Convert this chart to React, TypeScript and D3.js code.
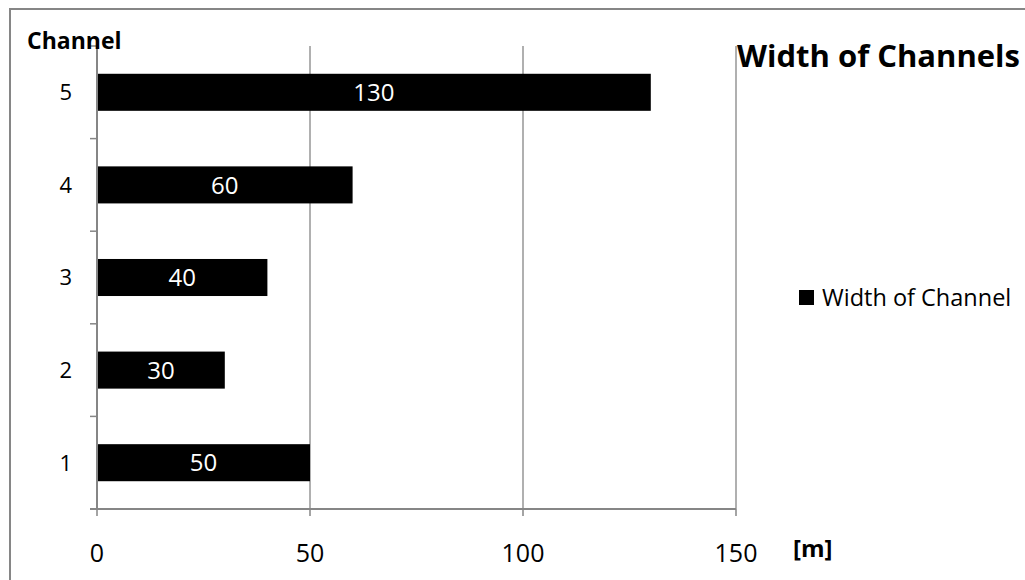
import React from "react";
import * as d3 from "d3";

const categories = ["1", "2", "3", "4", "5"];
const widths = [50, 30, 40, 60, 130];
const xTicks = [0, 50, 100, 150];
const title = "Width of Channels";
const seriesName = "Width of Channel";
const yTitle = "Channel";
const xTitle = "[m]";

const W = 1025;
const H = 580;
const plot = { left: 97, right: 736, top: 46, bottom: 509 };
const grey = "#868686";
const font = "'Open Sans', 'Noto Sans', sans-serif";

export default function App() {
  const x = d3.scaleLinear().domain([0, 150]).range([plot.left, plot.right]);
  const y = d3
    .scaleBand<string>()
    .domain([...categories].reverse())
    .range([plot.top, plot.bottom])
    .paddingInner(0)
    .paddingOuter(0);
  const bw = y.bandwidth();
  const barH = bw * 0.4;
  const bounds = d3.range(categories.length + 1).map((i) => plot.top + i * bw);

  return (
    <svg
      width={W}
      height={H}
      style={{ position: "absolute", left: 0, top: 0, background: "#fff" }}
      fontFamily={font}
    >
      <rect x={10} y={9} width={1030} height={600} fill="#fff" stroke={grey} strokeWidth={2} />
      {/* gridlines */}
      {xTicks.slice(1).map((t) => (
        <line key={"g" + t} x1={x(t)} x2={x(t)} y1={plot.top} y2={plot.bottom} stroke={grey} strokeWidth={1.3} />
      ))}
      {/* bars */}
      {categories.map((c, i) => {
        const cy = (y(c) as number) + bw / 2;
        return (
          <g key={"b" + c}>
            <rect x={x(0)} y={cy - barH / 2} width={x(widths[i]) - x(0)} height={barH} fill="#000" />
            <text
              x={(x(0) + x(widths[i])) / 2}
              y={cy}
              dy="0.36em"
              textAnchor="middle"
              fill="#fff"
              fontSize={24}
            >
              {widths[i]}
            </text>
          </g>
        );
      })}
      {/* axes */}
      <line x1={plot.left} x2={plot.left} y1={plot.top} y2={plot.bottom} stroke={grey} strokeWidth={2} />
      <line x1={plot.left - 7} x2={plot.right} y1={plot.bottom} y2={plot.bottom} stroke={grey} strokeWidth={2} />
      {bounds.map((b, i) => (
        <line key={"yt" + i} x1={plot.left - 7} x2={plot.left} y1={b} y2={b} stroke={grey} strokeWidth={1.5} />
      ))}
      {xTicks.map((t) => (
        <g key={"xt" + t}>
          <line x1={x(t)} x2={x(t)} y1={plot.bottom} y2={plot.bottom + 7} stroke={grey} strokeWidth={1.5} />
          <text x={x(t)} y={562} textAnchor="middle" fontSize={25} fill="#000">
            {t}
          </text>
        </g>
      ))}
      {categories.map((c) => (
        <text
          key={"yl" + c}
          x={72}
          y={(y(c) as number) + bw / 2}
          dy="0.36em"
          textAnchor="end"
          fontSize={22}
          fill="#000"
        >
          {c}
        </text>
      ))}
      {/* titles */}
      <text x={27} y={49} fontSize={23} fontWeight="bold" fill="#000">
        {yTitle}
      </text>
      <text x={793} y={557} fontSize={24} fontWeight="bold" fill="#000">
        {xTitle}
      </text>
      <text x={737} y={67} fontSize={31} fontWeight="bold" fill="#000">
        {title}
      </text>
      {/* legend */}
      <rect x={799} y={290} width={15} height={15} fill="#000" />
      <text x={822} y={306} fontSize={23.5} fill="#000">
        {seriesName}
      </text>
    </svg>
  );
}
